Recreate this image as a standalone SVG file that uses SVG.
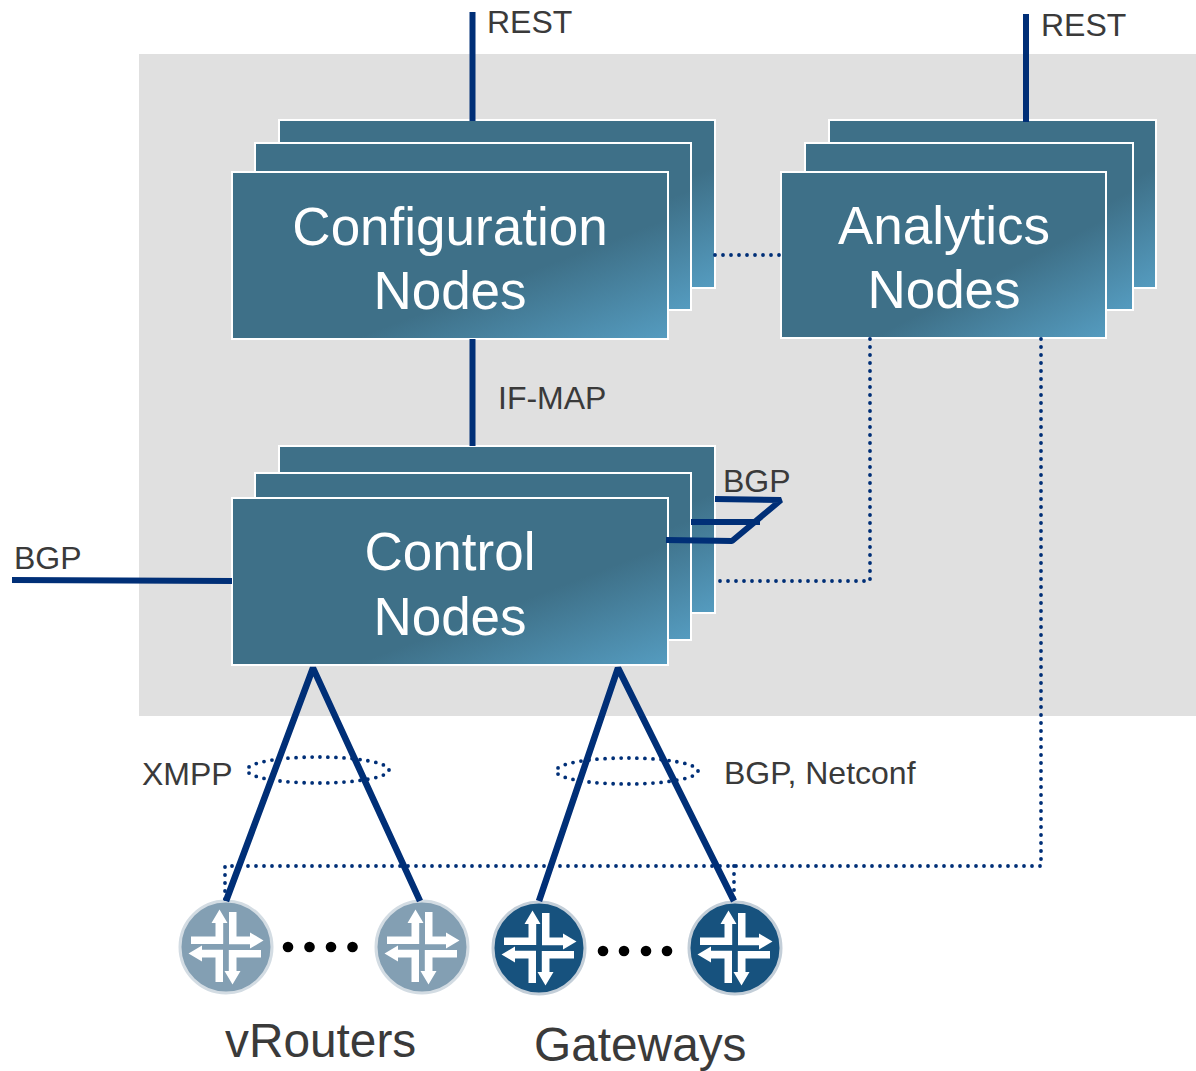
<svg xmlns="http://www.w3.org/2000/svg" xmlns:xlink="http://www.w3.org/1999/xlink" width="1196" height="1071" viewBox="0 0 1196 1071">
<style>
.card{fill:url(#g);stroke:#fff;stroke-width:2}
.title{font-family:"Liberation Sans",Arial,sans-serif;font-size:53px;fill:#fff;text-anchor:middle}
.lbl{font-family:"Liberation Sans",Arial,sans-serif;font-size:32px;fill:#3a3a3a}
.big{font-family:"Liberation Sans",Arial,sans-serif;font-size:47.800px;fill:#3a3a3a}
.solid{fill:none;stroke:#002f77;stroke-width:6;stroke-linejoin:bevel}
.thick{stroke-width:6.500}
.dot{fill:none;stroke:#002f77;stroke-width:3.800;stroke-linecap:round;stroke-dasharray:0 8}
.arrow{fill:#fff}
.d{fill:#000}
</style>
<defs>
<linearGradient id="g" x1="0" y1="0" x2="1" y2="1">
<stop offset="0" stop-color="#3e7088"/><stop offset="0.64" stop-color="#3e7088"/><stop offset="1" stop-color="#559cc0"/>
</linearGradient>
<g id="arrows">
<polygon id="a1" class="arrow" points="3,-35 10.500,-35 10.500,-10.500 24,-10.500 24,-14.500 37.500,-6.500 24,1.500 24,-2.800 3,-2.800"/>
<use xlink:href="#a1" href="#a1" transform="rotate(90)"/>
<use xlink:href="#a1" href="#a1" transform="rotate(180)"/>
<use xlink:href="#a1" href="#a1" transform="rotate(270)"/>
</g>
</defs>
<rect x="139" y="54" width="1057" height="662" fill="#e0e0e0"/>
<g id="config-nodes">
<rect class="card" x="279" y="120" width="436" height="168"/>
<rect class="card" x="255" y="143" width="436" height="167"/>
<rect class="card" x="232" y="172" width="436" height="167"/>
<text class="title" x="450" y="245">Configuration</text>
<text class="title" x="450" y="309">Nodes</text>
</g>
<g id="analytics-nodes">
<rect class="card" x="829" y="120" width="327" height="168"/>
<rect class="card" x="805" y="143" width="328" height="167"/>
<rect class="card" x="781" y="172" width="325" height="166"/>
<text class="title" x="944" y="244">Analytics</text>
<text class="title" x="944" y="308">Nodes</text>
</g>
<g id="control-nodes">
<rect class="card" x="279" y="446" width="436" height="167"/>
<rect class="card" x="255" y="473" width="436" height="167"/>
<rect class="card" x="232" y="498" width="436" height="167"/>
<text class="title" x="450" y="570">Control</text>
<text class="title" x="450" y="635">Nodes</text>
</g>
<g id="vrouter-1"><circle cx="226" cy="947" r="46" fill="#839fb3" stroke="#d3dce3" stroke-width="3"/><use xlink:href="#arrows" href="#arrows" x="226" y="947"/></g>
<g id="vrouter-2"><circle cx="422" cy="947" r="46" fill="#839fb3" stroke="#d3dce3" stroke-width="3"/><use xlink:href="#arrows" href="#arrows" x="422" y="947"/></g>
<g id="gateway-1"><circle cx="539" cy="948" r="46" fill="#17527e" stroke="#c3ced8" stroke-width="3"/><use xlink:href="#arrows" href="#arrows" x="539" y="948"/></g>
<g id="gateway-2"><circle cx="735" cy="948" r="46" fill="#17527e" stroke="#c3ced8" stroke-width="3"/><use xlink:href="#arrows" href="#arrows" x="735" y="948"/></g>
<g id="connectors">
<path class="dot" d="M715 255H781"/>
<path class="dot" d="M870 339V581H716"/>
<path class="dot" d="M1041 339V866H225V900"/>
<path class="dot" d="M734 866V900"/>
<ellipse class="dot" cx="318" cy="770" rx="71" ry="13"/>
<ellipse class="dot" cx="627" cy="771" rx="71" ry="13"/>
<path class="solid" d="M472.500 12V121M1026 14V122"/>
<path class="solid" d="M472.500 339V446"/>
<path class="solid" d="M12 580L232 581"/>
<path class="solid" d="M715 499L781 500L732 541L666 540"/>
<path class="solid" d="M691 522H760"/>
<path class="solid thick" d="M226 901L313 668L420 901"/>
<path class="solid thick" d="M539 901L618 668L734 901"/>
</g>
<g id="ellipsis">
<circle class="d" cx="288" cy="947" r="5.300"/><circle class="d" cx="309.500" cy="947" r="5.300"/><circle class="d" cx="331" cy="947" r="5.300"/><circle class="d" cx="352.500" cy="947" r="5.300"/>
<circle class="d" cx="603" cy="951" r="5.300"/><circle class="d" cx="624" cy="951" r="5.300"/><circle class="d" cx="646" cy="951" r="5.300"/><circle class="d" cx="667" cy="951" r="5.300"/>
</g>
<g id="labels">
<text class="lbl" x="487" y="33">REST</text>
<text class="lbl" x="1041" y="36">REST</text>
<text class="lbl" x="498" y="409">IF-MAP</text>
<text class="lbl" x="723" y="492">BGP</text>
<text class="lbl" x="14" y="569">BGP</text>
<text class="lbl" x="142" y="785">XMPP</text>
<text class="lbl" x="724" y="784">BGP, Netconf</text>
<text class="big" x="225" y="1057">vRouters</text>
<text class="big" x="534" y="1061">Gateways</text>
</g>
</svg>
